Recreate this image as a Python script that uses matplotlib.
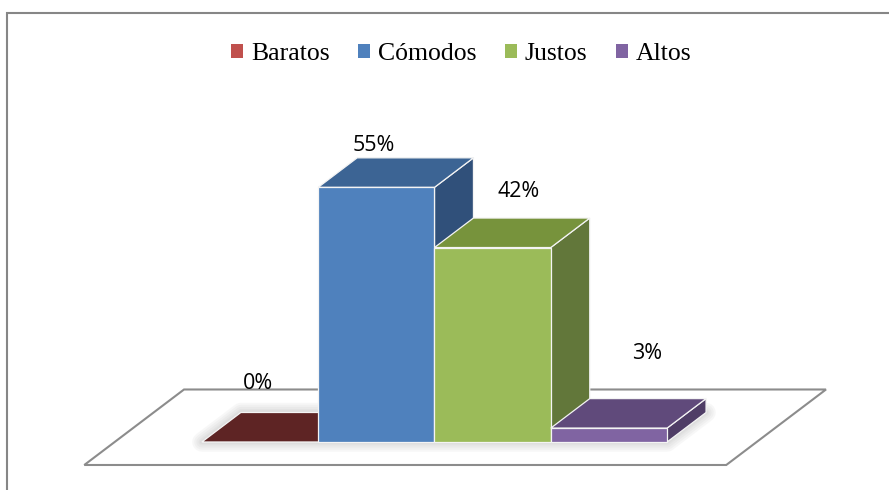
import matplotlib
matplotlib.use("Agg")
import matplotlib.pyplot as plt
from matplotlib.patches import Polygon, Patch, Rectangle

# Survey answers
categories = ["Baratos", "Cómodos", "Justos", "Altos"]
values = [0, 55, 42, 3]
value_labels = ["0%", "55%", "42%", "3%"]

# Face shading for the pseudo-3D columns
front_colors = ["#C0504D", "#4F81BD", "#9BBB59", "#8064A2"]
top_colors = ["#5E2424", "#3C6494", "#77933C", "#604A7B"]
side_colors = ["#4A1C1C", "#30507A", "#62773A", "#4F3D66"]

# Label placement relative to each column (x in slots, y in percentage points)
label_dx = [-0.02, -0.02, 0.22, 0.33]
label_dy = [11.4, 7.9, 10.9, 14.9]

W, H = 889, 490
fig = plt.figure(figsize=(W / 100, H / 100), dpi=100)
ax = fig.add_axes([0, 0, 1, 1])
ax.set_xlim(-2.236, 5.408)
ax.set_ylim(-10.37, 95.46)
ax.axis("off")

half = 0.5                 # half column width (columns touch)
ddx, ddy = 0.335, 6.37     # depth vector of the columns


def pt(x, y, d=0.0):
    return (x + d * ddx, y + d * ddy)


# Floor outline
f_left, f_right = -1.25, 4.27
d_front, d_back = -0.78, 1.78
floor = Polygon([pt(f_left, 0, d_front), pt(f_right, 0, d_front),
                 pt(f_right, 0, d_back), pt(f_left, 0, d_back)],
                closed=True, facecolor="white", edgecolor="#8C8C8C",
                linewidth=1.5, zorder=1)
ax.add_patch(floor)

# Soft shadow around the footprint of the column row
n = len(values)
foot = [pt(-half, 0, 0), pt(n - 1 + half, 0, 0),
        pt(n - 1 + half, 0, 1), pt(-half, 0, 1)]
for lw in [14, 11, 8, 5, 3]:
    ax.add_patch(Polygon(foot, closed=True, facecolor="#9A9A9A",
                         edgecolor="#9A9A9A", linewidth=lw, alpha=0.07,
                         joinstyle="round", zorder=2))

edge_kw = dict(edgecolor="#F4F4F4", linewidth=0.9, joinstyle="miter")
z = 3
for i, v in enumerate(values):
    x0, x1 = i - half, i + half
    side = [pt(x1, 0, 0), pt(x1, 0, 1), pt(x1, v, 1), pt(x1, v, 0)]
    top = [pt(x0, v, 0), pt(x1, v, 0), pt(x1, v, 1), pt(x0, v, 1)]
    front = [pt(x0, 0), pt(x1, 0), pt(x1, v), pt(x0, v)]
    ax.add_patch(Polygon(side, closed=True, facecolor=side_colors[i], zorder=z, **edge_kw))
    ax.add_patch(Polygon(top, closed=True, facecolor=top_colors[i], zorder=z + 1, **edge_kw))
    if v > 0:
        ax.add_patch(Polygon(front, closed=True, facecolor=front_colors[i], zorder=z + 2, **edge_kw))
    z += 3
    ax.text(i + label_dx[i], v + label_dy[i], value_labels[i], ha="center",
            va="baseline", fontsize=15.5, family="Open Sans", color="#000000", zorder=30)

# Chart area border
fig.add_artist(Rectangle((7 / W, -0.1), 1.2, 1 - 13 / H + 0.1,
                         transform=fig.transFigure, facecolor="none",
                         edgecolor="#868686", linewidth=1.5))

handles = [Patch(facecolor=c, edgecolor="none") for c in front_colors]
fig.legend(handles, categories, loc="center", bbox_to_anchor=(461 / W, 1 - 54 / H),
           ncol=4, frameon=False, prop={"family": "Liberation Serif", "size": 18.5},
           handlelength=0.48, handleheight=0.45, handletextpad=0.3,
           columnspacing=1.1, borderpad=0)

fig.savefig("out.png", dpi=100)
